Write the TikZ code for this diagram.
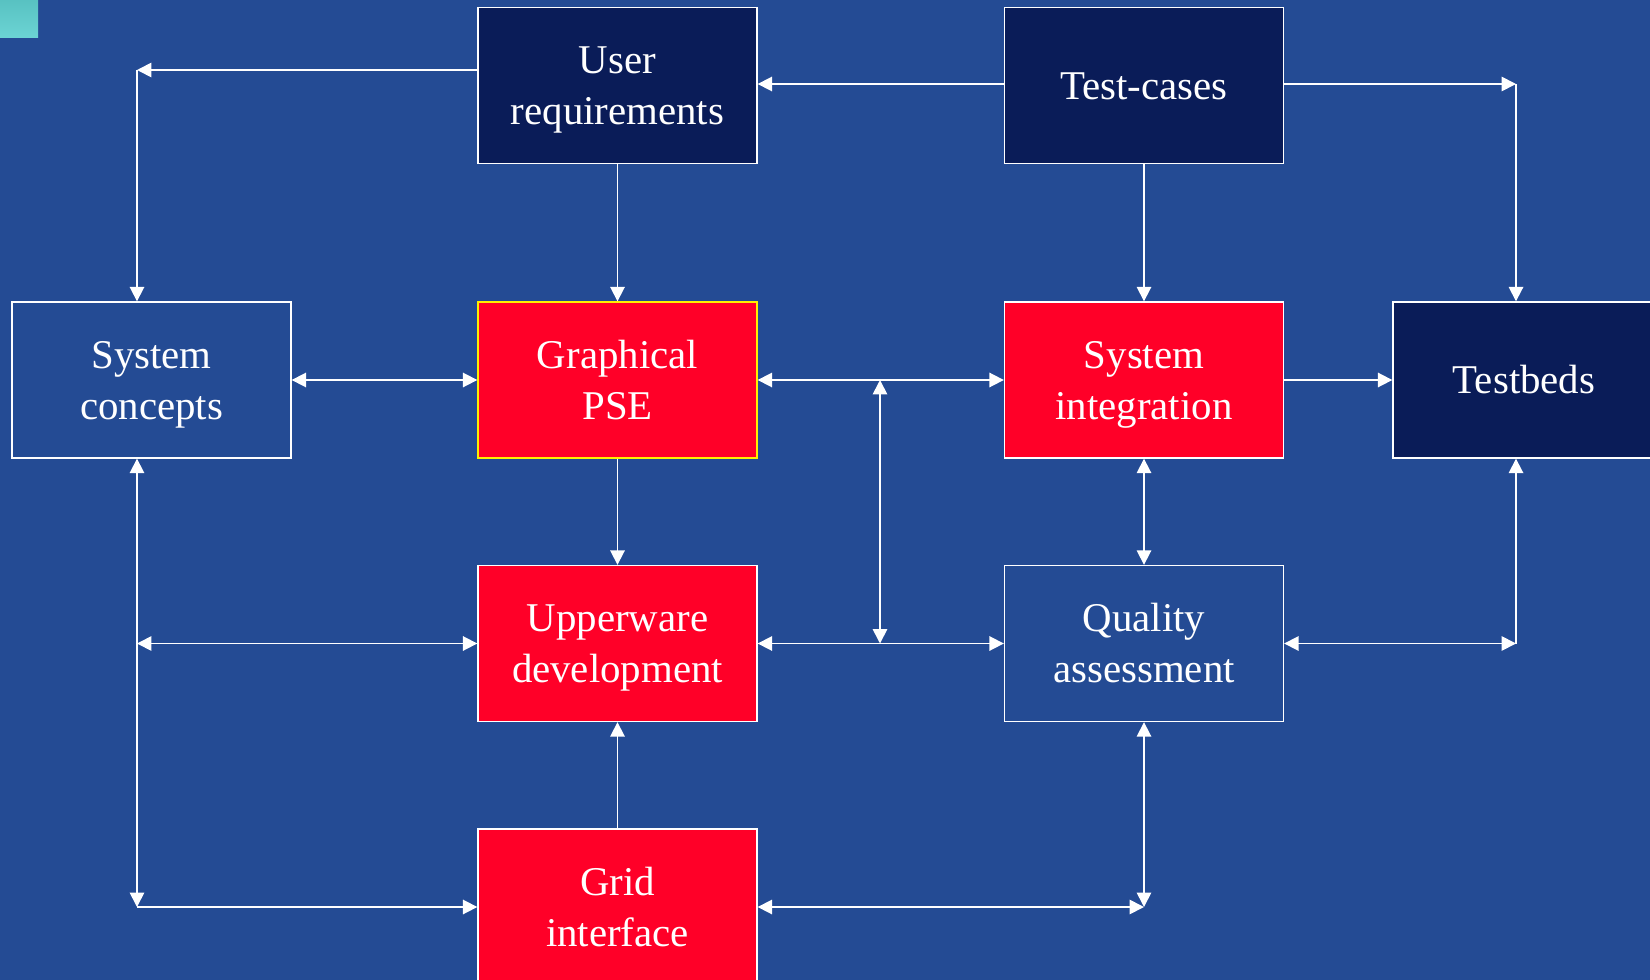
\documentclass[tikz,border=0pt]{standalone}
\usepackage{fontspec}
\setmainfont{Liberation Serif}
\usetikzlibrary{arrows.meta}

\definecolor{bgblue}{RGB}{36,75,148}
\definecolor{navy}{RGB}{10,28,88}
\definecolor{alertred}{RGB}{255,0,40}
\definecolor{edgeyellow}{RGB}{255,240,0}
\definecolor{tealtop}{RGB}{88,194,194}
\definecolor{tealbot}{RGB}{108,212,212}

% one strut per line keeps every label's baselines in the same place
\newcommand{\lstrut}{\rule[-0.216em]{0pt}{1.107em}}

\tikzset{
  box/.style={rectangle, draw=white, line width=0.8pt, text=white,
    minimum width=5.58cm, minimum height=3.12cm, inner sep=0pt,
    align=center, font=\fontsize{23.25pt}{28.9pt}\selectfont},
  navybox/.style={box, fill=navy},
  redbox/.style={box, fill=alertred},
  bluebox/.style={box, fill=bgblue},
  arr/.style={draw=white, line width=1pt,
    -{Triangle[length=0.29cm,width=0.29cm]}},
  dbl/.style={draw=white, line width=1pt,
    {Triangle[length=0.29cm,width=0.29cm]}-{Triangle[length=0.29cm,width=0.29cm]}},
}

\begin{document}
\begin{tikzpicture}[x=0.02cm,y=-0.02cm]
  % page and background
  \useasboundingbox (0,0) rectangle (1650,980);
  \fill[bgblue] (0,0) rectangle (1650,980);
  \shade[top color=tealtop, bottom color=tealbot] (0,0) rectangle (38,38);

  % blocks
  \node[navybox] (ur) at (617.5,85.5) {\lstrut User\\\lstrut requirements};
  \node[navybox] (tc) at (1144,85.5) {\lstrut Test-cases};
  \node[bluebox] (sc) at (151.5,380) {\lstrut System\\\lstrut concepts};
  \node[redbox, draw=edgeyellow] (gp) at (617.5,380) {\lstrut Graphical\\\lstrut PSE};
  \node[redbox] (si) at (1144,380) {\lstrut System\\\lstrut integration};
  \node[navybox, minimum width=5.24cm] (tb) at (1524,380) {\lstrut Testbeds};
  \node[redbox] (uw) at (617.5,643.5) {\lstrut Upperware\\\lstrut development};
  \node[bluebox] (qa) at (1144,643.5) {\lstrut Quality\\\lstrut assessment};
  \node[redbox] (gi) at (617.5,907) {\lstrut Grid\\\lstrut interface};

  % bend points of the routed connectors
  \coordinate (cTL) at (137,70);
  \coordinate (cTR) at (1516,84);
  \coordinate (cML) at (137,643.5);
  \coordinate (cMR) at (1516,643.5);
  \coordinate (cBL) at (137,907);
  \coordinate (cBR) at (1144,907);
  \coordinate (vTop) at (880,380);
  \coordinate (vBot) at (880,643.5);

  % top row
  \draw[arr] (ur.west |- cTL) -- (cTL);
  \draw[arr] (cTL) -- (sc.north -| cTL);
  \draw[arr] (tc.west |- cTR) -- (ur.east |- cTR);
  \draw[arr] (tc.east |- cTR) -- (cTR);
  \draw[arr] (cTR) -- (tb.north -| cTR);
  \draw[arr] (ur.south) -- (gp.north);
  \draw[arr] (tc.south) -- (si.north);

  % middle row
  \draw[dbl] (sc.east) -- (gp.west);
  \draw[dbl] (gp.east) -- (si.west);
  \draw[arr] (si.east) -- (tb.west);
  \draw[arr] (gp.south) -- (uw.north);
  \draw[dbl] (si.south) -- (qa.north);
  \draw[dbl] (vTop) -- (vBot);

  % lower rows
  \draw[dbl] (cML) -- (uw.west);
  \draw[dbl] (uw.east) -- (qa.west);
  \draw[dbl] (qa.east) -- (cMR);
  \draw[arr] (cMR) -- (tb.south -| cMR);
  \draw[dbl] (sc.south -| cBL) -- (cBL);
  \draw[arr] (cBL) -- (gi.west);
  \draw[arr] (gi.north) -- (uw.south);
  \draw[dbl] (gi.east) -- (cBR);
  \draw[dbl] (qa.south) -- (cBR);
\end{tikzpicture}
\end{document}
